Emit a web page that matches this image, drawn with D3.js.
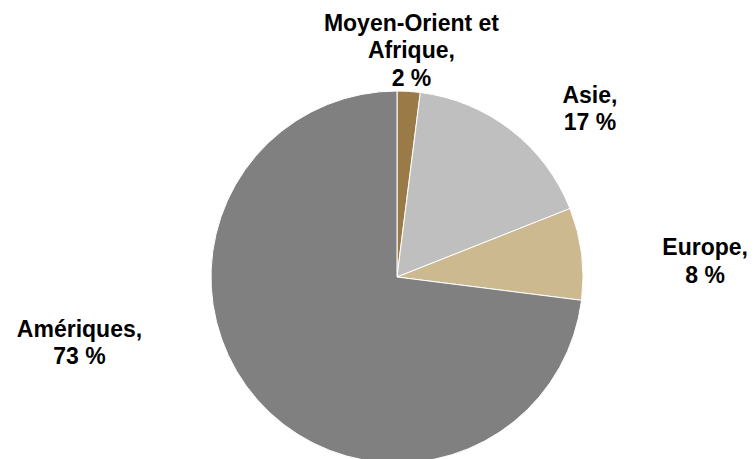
<!DOCTYPE html>
<html>
<head>
<meta charset="utf-8">
<script src="https://cdn.jsdelivr.net/npm/d3@7"></script>
<style>
  html, body { margin: 0; padding: 0; background: #ffffff; }
  svg { display: block; }
  text { font-family: "Liberation Sans", Arial, sans-serif; font-weight: bold; fill: #000000; }
</style>
</head>
<body>
<svg id="chart"></svg>
<script>
// data
const categories = ['Moyen-Orient et\nAfrique', 'Asie', 'Europe', 'Amériques'];
const values = [2, 17, 8, 73];
const colors = ['#9a7b48', '#bfbfbf', '#cdb98f', '#808080'];

// label nudges away from the arc centroid (Excel places them by hand-ish)
const labelNudge = [[0, 2.5], [52, 13], [80, 12.5], [-145, -87]];

const width = 754, height = 459;
const cx = 397, cy = 277, radius = 186;
const fontSize = 23, lineH = 27.5;

const svg = d3.select('#chart')
  .attr('width', width)
  .attr('height', height)
  .attr('viewBox', [0, 0, width, height]);

const pie = d3.pie().sort(null).value(d => d);
const arcs = pie(values);

const arc = d3.arc().innerRadius(0).outerRadius(radius);
const labelArc = d3.arc().innerRadius(230).outerRadius(230);

const g = svg.append('g').attr('transform', `translate(${cx},${cy})`);

g.selectAll('path')
  .data(arcs)
  .enter().append('path')
  .attr('d', arc)
  .attr('fill', (d, i) => colors[i])
  .attr('stroke', '#ffffff')
  .attr('stroke-width', 1)
  .attr('stroke-linejoin', 'round');

const labels = g.selectAll('text.label')
  .data(arcs)
  .enter().append('text')
  .attr('class', 'label')
  .attr('text-anchor', 'middle')
  .style('font-size', fontSize + 'px')
  .each(function(d, i) {
    const [x, y] = labelArc.centroid(d);
    const lx = x + labelNudge[i][0];
    const ly = y + labelNudge[i][1];
    const lines = categories[i].split('\n');
    lines[lines.length - 1] += ',';
    lines.push(`${values[i]} %`);
    const first = ly - (lines.length - 1) * lineH / 2 + fontSize * 0.36;
    d3.select(this).selectAll('tspan')
      .data(lines)
      .enter().append('tspan')
      .attr('x', lx)
      .attr('y', (l, j) => first + j * lineH)
      .text(l => l);
  });
</script>
</body>
</html>
